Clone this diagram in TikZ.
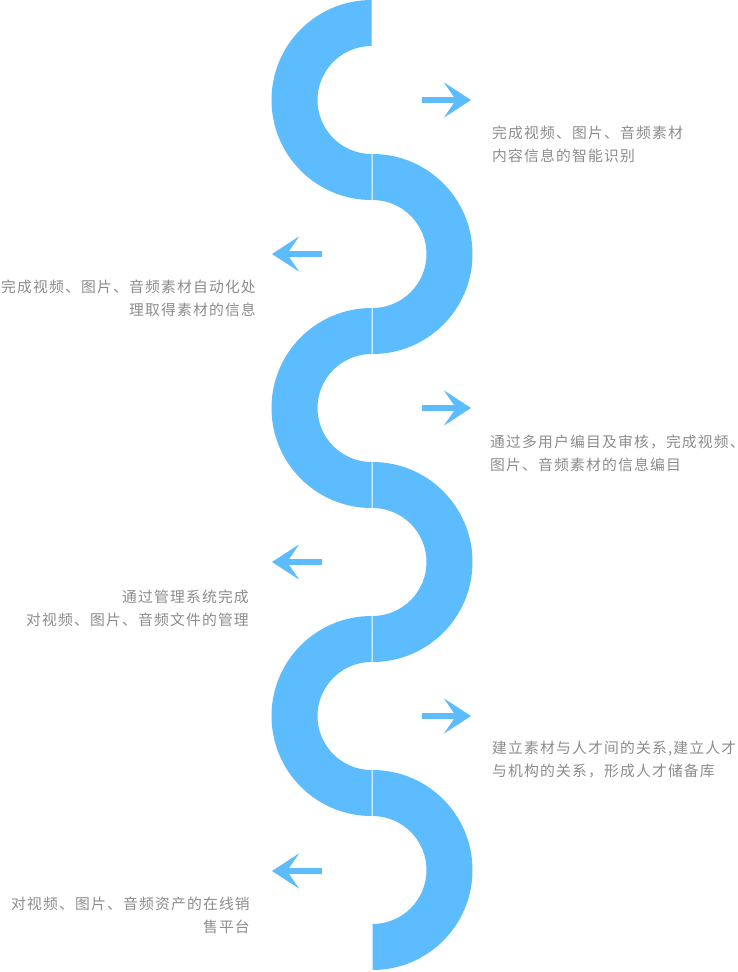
\documentclass[tikz,border=0pt]{standalone}
\usepackage{fontspec}
\newfontfamily\cjk[LetterSpace=8]{Noto Sans CJK SC}
\usepackage{tikz}
\usetikzlibrary{arrows.meta,positioning}
\definecolor{ringblue}{RGB}{92,188,254}
\definecolor{textgray}{RGB}{140,140,140}
\tikzstyle{ring} = [fill=ringblue]
\tikzstyle{desc} = [inner sep=0pt, text=textgray,
    font=\cjk\fontsize{14.8}{23}\selectfont]
\tikzstyle{pointer} = [draw=ringblue, line width=5.5pt,
    -{Stealth[length=27pt,width=35pt,inset=12pt]}]

\begin{document}
\begin{tikzpicture}[x=1pt, y=-1pt]
  \useasboundingbox (0,0) rectangle (737,972);
  % The winding band
  \fill[ring] (371.5,0) arc[start angle=270,end angle=90,radius=100] -- (371.5,154) arc[start angle=90,end angle=270,radius=54] -- cycle;
  \fill[ring] (372.5,154) arc[start angle=-90,end angle=90,radius=100] -- (372.5,308) arc[start angle=90,end angle=-90,radius=54] -- cycle;
  \fill[ring] (371.5,308) arc[start angle=270,end angle=90,radius=100] -- (371.5,462) arc[start angle=90,end angle=270,radius=54] -- cycle;
  \fill[ring] (372.5,462) arc[start angle=-90,end angle=90,radius=100] -- (372.5,616) arc[start angle=90,end angle=-90,radius=54] -- cycle;
  \fill[ring] (371.5,616) arc[start angle=270,end angle=90,radius=100] -- (371.5,770) arc[start angle=90,end angle=270,radius=54] -- cycle;
  \fill[ring] (372.5,770) arc[start angle=-90,end angle=90,radius=100] -- (372.5,924) arc[start angle=90,end angle=-90,radius=54] -- cycle;

  % Place nodes
  \node [desc, anchor=west, align=left] (t1) at (492,144)
  {完成视频、图片、音频素材\\内容信息的智能识别};
  \node [desc, anchor=east, align=right] (t2) at (256,298)
  {完成视频、图片、音频素材自动化处\\理取得素材的信息};
  \node [desc, anchor=west, align=left] (t3) at (490,453)
  {通过多用户编目及审核，完成视频、\\图片、音频素材的信息编目};
  \node [desc, anchor=east, align=right] (t4) at (249,608)
  {通过管理系统完成\\对视频、图片、音频文件的管理};
  \node [desc, anchor=west, align=left] (t5) at (492,760)
  {建立素材与人才间的关系,建立人才\\与机构的关系，形成人才储备库};
  \node [desc, anchor=east, align=right] (t6) at (250,915)
  {对视频、图片、音频资产的在线销\\售平台};

  % Arrows
  \coordinate (p1a) at (422,100); \coordinate (p1b) at (471,100);
  \coordinate (p2a) at (322,254); \coordinate (p2b) at (272,254);
  \coordinate (p3a) at (422,408); \coordinate (p3b) at (471,408);
  \coordinate (p4a) at (322,562); \coordinate (p4b) at (272,562);
  \coordinate (p5a) at (422,716); \coordinate (p5b) at (471,716);
  \coordinate (p6a) at (322,871); \coordinate (p6b) at (272,871);
  \draw[pointer] (p1a) -- (p1b);
  \draw[pointer] (p2a) -- (p2b);
  \draw[pointer] (p3a) -- (p3b);
  \draw[pointer] (p4a) -- (p4b);
  \draw[pointer] (p5a) -- (p5b);
  \draw[pointer] (p6a) -- (p6b);
\end{tikzpicture}
\end{document}
